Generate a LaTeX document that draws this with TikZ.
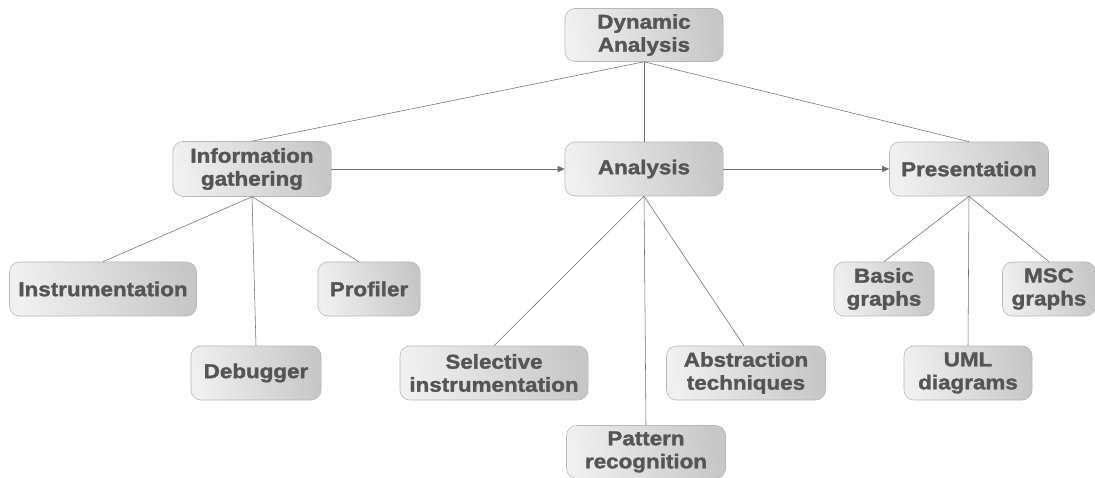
\documentclass[tikz,border=0pt]{standalone}
\usepackage{fontspec}
\newfontfamily\boxfont{Liberation Sans}[FakeStretch=1.12, BoldFeatures={FakeBold=1.6}]
\usetikzlibrary{arrows.meta}
\definecolor{txt}{HTML}{555555}
\definecolor{edge}{HTML}{707070}
\definecolor{rim}{HTML}{B8B8B8}
\tikzset{
  topic/.style={draw=rim, line width=0.6pt, rounded corners=10pt,
    left color=black!6, right color=black!22, shading angle=100,
    text=txt, font=\boxfont\bfseries\fontsize{20}{23}\selectfont,
    align=center, inner sep=2pt},
  link/.style={draw=edge, line width=0.55pt},
  flow/.style={link, -{Triangle[length=7pt,width=6pt]}},
}
\begin{document}
\begin{tikzpicture}[x=1pt,y=-1pt]
\useasboundingbox (0,0) rectangle (1095,478);
\fill[white] (0,0) rectangle (1095,478);

% main phases
\node[topic, minimum width=158pt, minimum height=53pt] (dyn) at (644,35) {Dynamic\\Analysis};
\node[topic, minimum width=158pt, minimum height=55pt] (info) at (252,169) {Information\\gathering};
\node[topic, minimum width=158pt, minimum height=54pt] (ana) at (644,169) {Analysis};
\node[topic, minimum width=159pt, minimum height=54pt] (pres) at (969,169) {Presentation};

% information gathering
\node[topic, minimum width=187pt, minimum height=54pt] (instr) at (103,289) {Instrumentation};
\node[topic, minimum width=102pt, minimum height=54pt] (prof) at (369,289) {Profiler};
\node[topic, minimum width=130pt, minimum height=54pt] (dbg) at (256,373) {Debugger};

% analysis
\node[topic, minimum width=188pt, minimum height=54pt] (sel) at (494,373) {Selective\\instrumentation};
\node[topic, minimum width=159pt, minimum height=54pt] (abs) at (746,373) {Abstraction\\techniques};
\node[topic, minimum width=159pt, minimum height=53pt] (pat) at (646,452) {Pattern\\recognition};

% presentation
\node[topic, minimum width=100pt, minimum height=54pt] (basic) at (884,289) {Basic\\graphs};
\node[topic, minimum width=93pt, minimum height=54pt] (msc) at (1049,289) {MSC\\graphs};
\node[topic, minimum width=128pt, minimum height=54pt] (uml) at (968,373) {UML\\diagrams};

% hierarchy
\draw[link] (dyn.south) -- (info.north);
\draw[link] (dyn.south) -- (ana.north);
\draw[link] (dyn.south) -- (pres.north);

\draw[link] (info.south) -- (instr.north);
\draw[link] (info.south) -- (dbg.north);
\draw[link] (info.south) -- ([xshift=-10pt]prof.north);

\draw[link] (ana.south) -- (sel.north);
\draw[link] (ana.south) -- (pat.north);
\draw[link] (ana.south) -- ([xshift=-2pt]abs.north);

\draw[link] (pres.south) -- (basic.north);
\draw[link] (pres.south) -- (uml.north);
\draw[link] (pres.south) -- (msc.north);

% process flow
\draw[flow] (info.east) -- (ana.west);
\draw[flow] (ana.east) -- (pres.west);
\end{tikzpicture}
\end{document}
